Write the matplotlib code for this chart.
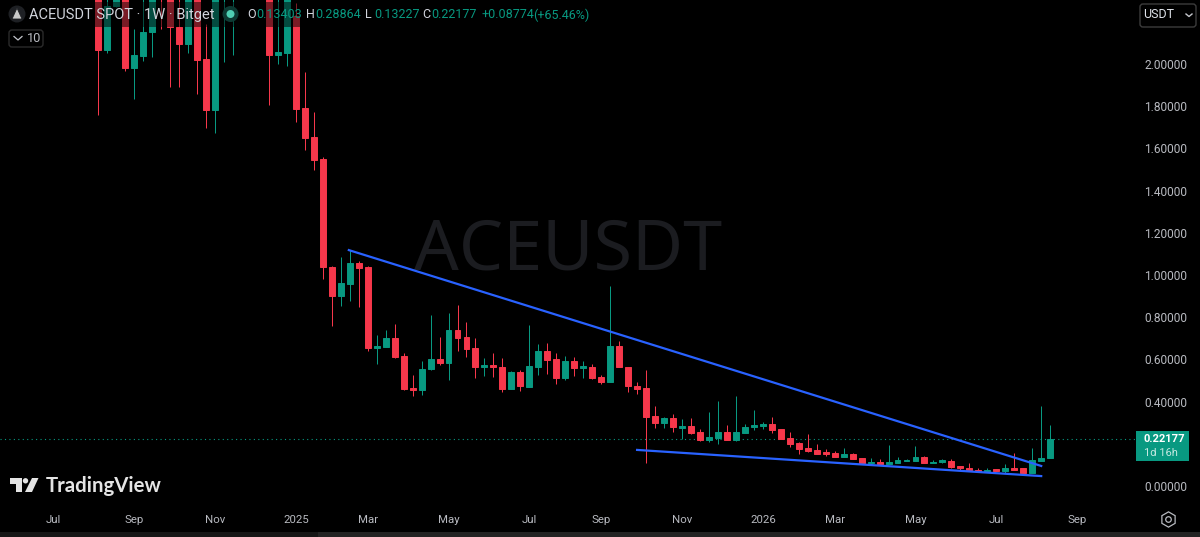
import matplotlib
matplotlib.use('Agg')
import matplotlib.pyplot as plt
from matplotlib.patches import Rectangle, FancyBboxPatch, Polygon, Circle

plt.rcParams['font.family'] = ['Roboto', 'DejaVu Sans']

# Weekly candles. Values above 2.30 are off the top of the chart (estimated)
opens = [2.45, 2.066, 2.275, 2.45, 1.981, 2.038, 2.152, 2.9, 2.6, 2.175, 2.095, 2.5, 2.024, 1.782, 2.4, 2.7,
         3.2, 3.0, 3.3, 2.9, 2.043, 2.052, 2.227, 1.791, 1.654, 1.55, 1.038, 0.9, 0.957, 1.057, 1.038, 0.654,
         0.659, 0.701, 0.616, 0.464, 0.455, 0.555, 0.602, 0.583, 0.739, 0.706, 0.654, 0.564, 0.573, 0.564,
         0.46, 0.54, 0.469, 0.564, 0.64, 0.602, 0.512, 0.592, 0.559, 0.564, 0.517, 0.493, 0.664, 0.564, 0.474,
         0.464, 0.332, 0.299, 0.322, 0.275, 0.284, 0.256, 0.218, 0.227, 0.256, 0.218, 0.251, 0.28, 0.284,
         0.294, 0.27, 0.227, 0.204, 0.18, 0.171, 0.159, 0.156, 0.137, 0.152, 0.133, 0.111, 0.114, 0.104,
         0.109, 0.118, 0.118, 0.137, 0.109, 0.116, 0.118, 0.095, 0.085, 0.076, 0.071, 0.081, 0.071, 0.085,
         0.085, 0.062, 0.118, 0.13403]
highs = [2.6, 2.5, 2.6, 2.6, 2.166, 2.4, 2.7, 3.0, 2.8, 2.32, 2.6, 2.6, 2.19, 2.8, 2.9, 3.1,
         3.3, 3.5, 3.6, 3.0, 2.5, 2.6, 2.289, 1.962, 1.773, 1.559, 1.043, 1.085, 1.118, 1.066, 1.043, 0.716,
         0.739, 0.768, 0.63, 0.526, 0.592, 0.81, 0.706, 0.82, 0.858, 0.777, 0.701, 0.607, 0.63, 0.607,
         0.545, 0.55, 0.763, 0.673, 0.678, 0.63, 0.616, 0.611, 0.592, 0.578, 0.526, 0.948, 0.687, 0.564, 0.493,
         0.55, 0.379, 0.327, 0.341, 0.318, 0.322, 0.27, 0.351, 0.403, 0.289, 0.427, 0.294, 0.36, 0.303,
         0.327, 0.27, 0.256, 0.209, 0.246, 0.199, 0.175, 0.166, 0.18, 0.156, 0.133, 0.133, 0.128, 0.194,
         0.137, 0.128, 0.19, 0.142, 0.123, 0.128, 0.128, 0.095, 0.109, 0.085, 0.085, 0.081, 0.104, 0.156,
         0.085, 0.18, 0.379, 0.28864]
lows = [1.758, 2.05, 2.27, 1.967, 1.834, 2.014, 2.033, 2.166, 1.891, 1.891, 2.052, 1.858, 1.697, 1.673, 2.009, 2.043,
        2.6, 2.8, 2.5, 1.806, 2.0, 1.991, 1.725, 1.592, 1.498, 0.981, 0.758, 0.853, 0.877, 0.848, 0.64, 0.578,
        0.659, 0.607, 0.455, 0.427, 0.431, 0.55, 0.573, 0.502, 0.64, 0.611, 0.512, 0.521, 0.517, 0.445,
        0.46, 0.45, 0.469, 0.526, 0.531, 0.483, 0.502, 0.521, 0.512, 0.507, 0.483, 0.493, 0.564, 0.445, 0.436,
        0.109, 0.275, 0.275, 0.256, 0.223, 0.246, 0.213, 0.209, 0.199, 0.218, 0.213, 0.251, 0.265, 0.27,
        0.251, 0.223, 0.185, 0.152, 0.161, 0.152, 0.142, 0.137, 0.137, 0.128, 0.109, 0.109, 0.1, 0.104,
        0.109, 0.118, 0.118, 0.109, 0.109, 0.109, 0.085, 0.076, 0.076, 0.071, 0.071, 0.071, 0.062, 0.076,
        0.062, 0.062, 0.118, 0.13227]
closes = [2.066, 2.275, 2.5, 1.981, 2.043, 2.152, 2.5, 2.6, 2.175, 2.095, 2.5, 2.019, 1.782, 2.6, 2.7, 3.0,
          3.0, 3.3, 2.9, 2.043, 2.057, 2.42, 1.787, 1.649, 1.545, 1.038, 0.9, 0.962, 1.057, 1.033, 0.654, 0.664,
          0.701, 0.611, 0.46, 0.455, 0.555, 0.602, 0.583, 0.739, 0.701, 0.649, 0.564, 0.573, 0.564, 0.46,
          0.54, 0.474, 0.569, 0.64, 0.597, 0.512, 0.592, 0.559, 0.569, 0.512, 0.493, 0.664, 0.564, 0.474, 0.46,
          0.327, 0.299, 0.322, 0.28, 0.284, 0.251, 0.218, 0.232, 0.256, 0.218, 0.256, 0.28, 0.289, 0.294,
          0.265, 0.223, 0.199, 0.175, 0.166, 0.152, 0.154, 0.137, 0.152, 0.128, 0.109, 0.116, 0.104, 0.114,
          0.123, 0.123, 0.137, 0.109, 0.114, 0.121, 0.09, 0.085, 0.076, 0.071, 0.076, 0.071, 0.085, 0.076,
          0.062, 0.123, 0.133, 0.22177]

# Trend lines drawn on the chart: (candle number, price) at each end
upper_line_x = [27.9, 105.0]
upper_line_y = [1.118, 0.095]
lower_line_x = [60.0, 105.0]
lower_line_y = [0.171, 0.047]

last_price = 0.22177

# 0.20000 is hidden behind the price tag in the reference
price_ticks = [0.0, 0.4, 0.6, 0.8, 1.0, 1.2, 1.4, 1.6, 1.8, 2.0]
date_ticks = [-5, 4, 13, 22, 30, 39, 48, 56, 65, 74, 82, 91, 100, 109]
date_labels = ['Jul', 'Sep', 'Nov', '2025', 'Mar', 'May', 'Jul', 'Sep', 'Nov', '2026', 'Mar', 'May', 'Jul', 'Sep']

legend_values = ['0.13403', '0.28864', '0.13227', '0.22177']
legend_letters = ['O', 'H', 'L', 'C']

UP = '#089981'
DOWN = '#F6374B'
BLUE = '#2962FF'
TEXT = '#b8bac0'

W, H = 1200, 537
PANE_W, PANE_H = 1136, 505
# picture scale: first candle at x=98.3, 8.98 px per week, price 0 at y=486, 211 px per 1.0
X0, DX = 98.3, 8.98
Y0, DY = 486, 211

fig = plt.figure(figsize=(W / 100, H / 100), dpi=100, facecolor='black')
ax = fig.add_axes([0, (H - PANE_H) / H, PANE_W / W, PANE_H / H], facecolor='black')
ax.set_xlim(-X0 / DX, (PANE_W - X0) / DX)
ax.set_ylim((Y0 - PANE_H) / DY, Y0 / DY)

# Watermark under everything
ax.text(568 / PANE_W, 1 - 251 / PANE_H, 'ACEUSDT', transform=ax.transAxes, color='#1b1c20',
        fontsize=50.5, ha='center', va='center', family='Noto Sans', zorder=0)

# Candles
for i in range(len(opens)):
    color = UP if closes[i] >= opens[i] else DOWN
    ax.vlines(i, lows[i], highs[i], color=color, linewidth=0.72, zorder=2)
    ax.bar(i, abs(closes[i] - opens[i]), bottom=min(opens[i], closes[i]), width=0.66,
           color=color, edgecolor=color, linewidth=0.7, zorder=3)

# Last price line
ax.axhline(last_price, color=UP, linewidth=0.8, linestyle=(0, (1, 3)), zorder=1)

# Trend lines
ax.plot(upper_line_x, upper_line_y, color=BLUE, linewidth=1.6, zorder=4)
ax.plot(lower_line_x, lower_line_y, color=BLUE, linewidth=1.6, zorder=4)

# Axes labels
ax.yaxis.tick_right()
ax.set_yticks(price_ticks)
ax.set_yticklabels(['%.5f' % p for p in price_ticks])
ax.set_xticks(date_ticks)
ax.set_xticklabels(date_labels)
ax.tick_params(axis='y', length=0, pad=5.8, labelsize=8.6, labelcolor=TEXT)
ax.tick_params(axis='x', length=0, pad=7, labelsize=8.2, labelcolor=TEXT)
for spine in ax.spines.values():
    spine.set_visible(False)

# Overlay in picture pixels for the TradingView interface
ui = fig.add_axes([0, 0, 1, 1], facecolor='none')
ui.set_xlim(0, W)
ui.set_ylim(H, 0)
ui.axis('off')

# Dark band behind the legend
ui.add_patch(Rectangle((5, 2), 585, 25, facecolor='black', alpha=0.5, edgecolor='none'))

# Symbol icon
ui.add_patch(Circle((17, 14), 8.5, facecolor='#1e2024', edgecolor='none'))
ui.add_patch(Polygon([(17, 8), (22, 19), (12, 19)], closed=True, facecolor='#c9c9c9', edgecolor='#1e2024', linewidth=0.6))
ui.text(29, 14.5, 'ACEUSDT SPOT · 1W · Bitget', color='#d1d4dc', fontsize=10.5, va='center')

# Market status dot
ui.add_patch(Circle((230.5, 14), 8, facecolor='#0d3a33', edgecolor='none'))
ui.add_patch(Circle((230.5, 14), 4, facecolor='#4fcfb3', edgecolor='none'))

# OHLC legend
letter_x = [247, 306, 365, 422]
for letter, value, x in zip(legend_letters, legend_values, letter_x):
    ui.text(x, 15, letter, color='#d1d4dc', fontsize=9, va='center')
    ui.text(x + 9, 15, value, color=UP, fontsize=9, va='center')
ui.text(481, 15, '+0.08774', color=UP, fontsize=9, va='center')
ui.text(533, 15, '(+65.46%)', color=UP, fontsize=9, va='center')

# Collapse button with count
ui.add_patch(FancyBboxPatch((9, 30), 34, 17, boxstyle='round,pad=0,rounding_size=3',
                            facecolor='black', edgecolor='#2b2b2b', linewidth=1))
ui.plot([14, 18, 22], [36.5, 40, 36.5], color='#c4c6cc', linewidth=0.9)
ui.text(27, 39, '10', color=TEXT, fontsize=9.2, va='center')

# Currency button
ui.add_patch(FancyBboxPatch((1140, 4), 56, 23, boxstyle='round,pad=0,rounding_size=3',
                            facecolor='black', edgecolor='#3c3c3c', linewidth=1))
ui.text(1143, 15, 'USDT', color='#dfe3ea', fontsize=9, va='center')
ui.plot([1186, 1189, 1192], [14, 16.5, 14], color='#c4c6cc', linewidth=1)

# Price tag
ui.add_patch(Rectangle((1136, 431), 53, 30, facecolor=UP, edgecolor='none'))
ui.text(1144, 439.5, '%.5f' % last_price, color='white', fontsize=8, weight='bold', va='center')
ui.text(1144, 453, '1d 16h', color='#c7e9e2', fontsize=8, va='center')

# Settings icon
ui.plot([1168], [519], marker='h', markersize=11, markerfacecolor='none', markeredgecolor=TEXT, markeredgewidth=0.9)
ui.plot([1168], [519], marker='o', markersize=4, markerfacecolor='none', markeredgecolor=TEXT, markeredgewidth=0.9)

# TradingView logo
logo_color = '#e4e4e4'
ui.add_patch(Polygon([(10, 478), (22, 478), (22, 492), (16, 492), (16, 484), (10, 484)], closed=True, facecolor=logo_color, edgecolor='none'))
ui.add_patch(Circle((25.5, 480.8), 2.7, facecolor=logo_color, edgecolor='none'))
ui.add_patch(Polygon([(32, 478), (38.5, 478), (32, 492), (25, 492)], closed=True, facecolor=logo_color, edgecolor='none'))
ui.text(46, 486, 'TradingView', color=logo_color, fontsize=14.7, weight='bold', family='Lato', va='center')

# Scroll bar strip along the bottom
ui.add_patch(Rectangle((0, 532), 318, 5, facecolor='#161616', edgecolor='none'))
ui.add_patch(Rectangle((318, 532), 882, 5, facecolor='#232323', edgecolor='none'))

fig.savefig('out.png', dpi=100, facecolor='black')
